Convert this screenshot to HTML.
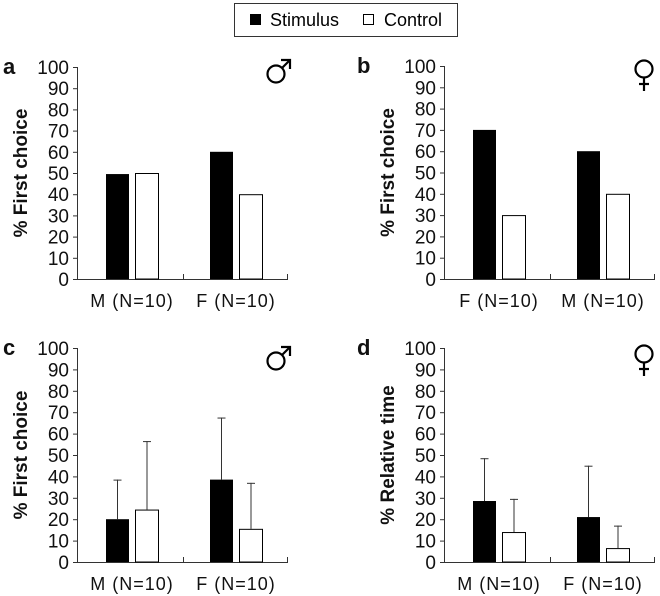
<!DOCTYPE html>
<html><head><meta charset="utf-8">
<style>
body{margin:0;background:#fff;}
svg{display:block;font-family:"Liberation Sans",Arial,sans-serif;}
</style></head>
<body>
<svg id="fig" width="660" height="596" viewBox="0 0 660 596" xmlns="http://www.w3.org/2000/svg">
  <g>
    <rect x="234.5" y="3.5" width="223" height="33" fill="#fff" stroke="#333" stroke-width="1"/>
    <rect x="250" y="14" width="11" height="11" fill="#000"/>
    <text x="270" y="26" font-size="18">Stimulus</text>
    <rect x="363.5" y="14.5" width="10" height="10" fill="#fff" stroke="#000"/>
    <text x="384" y="26" font-size="18">Control</text>
  </g>
</svg>
<script>
const yTicks = [0,10,20,30,40,50,60,70,80,90,100];
const catsA = ["M (N=10)","F (N=10)"];
const stimA = [49.5,60];
const ctrlA = [50,40];
const catsB = ["F (N=10)","M (N=10)"];
const stimB = [70,60];
const ctrlB = [30,40];
const catsC = ["M (N=10)","F (N=10)"];
const stimC = [20,38.5];
const ctrlC = [24.5,15.5];
const stimErrC = [18.5,29];
const ctrlErrC = [32,21.5];
const catsD = ["M (N=10)","F (N=10)"];
const stimD = [28.5,21];
const ctrlD = [14,6.5];
const stimErrD = [20,24];
const ctrlErrD = [15.5,10.5];

const NS="http://www.w3.org/2000/svg";
const svg=document.getElementById('fig');
function mk(tag,attrs,parent){const e=document.createElementNS(NS,tag);for(const k in attrs)e.setAttribute(k,attrs[k]);(parent||svg).appendChild(e);return e;}

function panel(p){
  const g=mk('g',{});
  
  
  const x0=p.x0,x1=p.x0+211,y0=p.y0,y100=p.y100;
  const yS=v=>y0-(y0-y100)*v/100;
  const ya=mk('line',{x1:x0+0.5,y1:y100,x2:x0+0.5,y2:y0,stroke:'#333','stroke-width':1},g);
  
  
  const xa=mk('line',{x1:x0,y1:y0+0.5,x2:x1,y2:y0+0.5,stroke:'#333','stroke-width':1},g);
  
  
  [x0+106.5,x1-0.5].forEach(tx=>{mk('line',{x1:tx,y1:y0,x2:tx,y2:y0-5,stroke:'#333'},g);});
  yTicks.forEach(t=>{
    const yy=yS(t);
    mk('line',{x1:x0-4,y1:yy+0.5,x2:x0,y2:yy+0.5,stroke:'#333'},g);
    const tl=mk('text',{x:x0-8,y:yy+7,'font-size':19,'text-anchor':'end',fill:'#111'},g);
    tl.textContent=t;
    
    
  });
  const offs=[29,133];
  p.cats.forEach((c,i)=>{
    const cx=x0+offs[i];
    const bx1=cx, bx2=cx+29;
    const hs=y0-yS(p.stim[i]);
    const b1=mk('rect',{x:bx1,y:yS(p.stim[i]),width:23,height:hs,fill:'#000'},g);
    
    
    const b2=mk('rect',{x:bx2+0.5,y:yS(p.ctrl[i])+0.5,width:23,height:y0-yS(p.ctrl[i])-0.5,fill:'#fff',stroke:'#000','stroke-width':1},g);
    
    
    if(p.se){
      [[bx1+11.5,p.stim[i],p.se[i]],[bx2+12,p.ctrl[i],p.ce[i]]].forEach(([ex,v,e])=>{
        const ey=yS(v+e);
        const l=mk('line',{x1:ex,y1:ey,x2:ex,y2:yS(v),stroke:'#333','stroke-width':1},g);
        
        
        mk('line',{x1:ex-4,y1:ey+0.5,x2:ex+4,y2:ey+0.5,stroke:'#333'},g);
      });
    }
    const cl=mk('text',{x:cx+26,y:y0+28,'font-size':18,'text-anchor':'middle','letter-spacing':'1',fill:'#111'},g);
    cl.textContent=c;
    
    
  });
  const ymid=(y0+y100)/2;
  const yt=mk('text',{x:p.tx,y:ymid,'font-size':19,'font-weight':'bold','text-anchor':'middle',transform:`rotate(-90 ${p.tx} ${ymid})`,fill:'#111'},g);
  yt.textContent=p.title;
  
  
  const lt=mk('text',{x:p.lx,y:y100+7,'font-size':22,'font-weight':'bold',fill:'#111'},g);
  lt.textContent=p.letter;
  
  
  const sg=mk('g',{fill:'none',stroke:'#000','stroke-width':2.2},g);
  
  
  if(p.male){
    const cx=p.sx,cy=p.sy;
    mk('circle',{cx:cx,cy:cy,r:8.5},sg);
    mk('line',{x1:cx+6,y1:cy-6,x2:cx+13,y2:cy-13},sg);
    mk('polyline',{points:`${cx+5},${cy-14} ${cx+14},${cy-14} ${cx+14},${cy-5}`},sg);
  } else {
    const cx=p.sx,cy=p.sy;
    mk('circle',{cx:cx,cy:cy,r:8.5},sg);
    mk('line',{x1:cx,y1:cy+8.5,x2:cx,y2:cy+22},sg);
    mk('line',{x1:cx-5,y1:cy+15,x2:cx+5,y2:cy+15},sg);
  }
}
panel({letter:'a',x0:77,y0:279,y100:67,cats:catsA,stim:stimA,ctrl:ctrlA,title:'% First choice',tx:27,lx:3,male:true,sx:276,sy:74});
panel({letter:'b',x0:444,y0:279,y100:66,cats:catsB,stim:stimB,ctrl:ctrlB,title:'% First choice',tx:394,lx:357,male:false,sx:644,sy:69});
panel({letter:'c',x0:77,y0:562,y100:348,cats:catsC,stim:stimC,ctrl:ctrlC,se:stimErrC,ce:ctrlErrC,title:'% First choice',tx:27,lx:3,male:true,sx:276,sy:361});
panel({letter:'d',x0:444,y0:562,y100:348,cats:catsD,stim:stimD,ctrl:ctrlD,se:stimErrD,ce:ctrlErrD,title:'% Relative time',tx:394,lx:357,male:false,sx:644,sy:354});
</script>
</body></html>
